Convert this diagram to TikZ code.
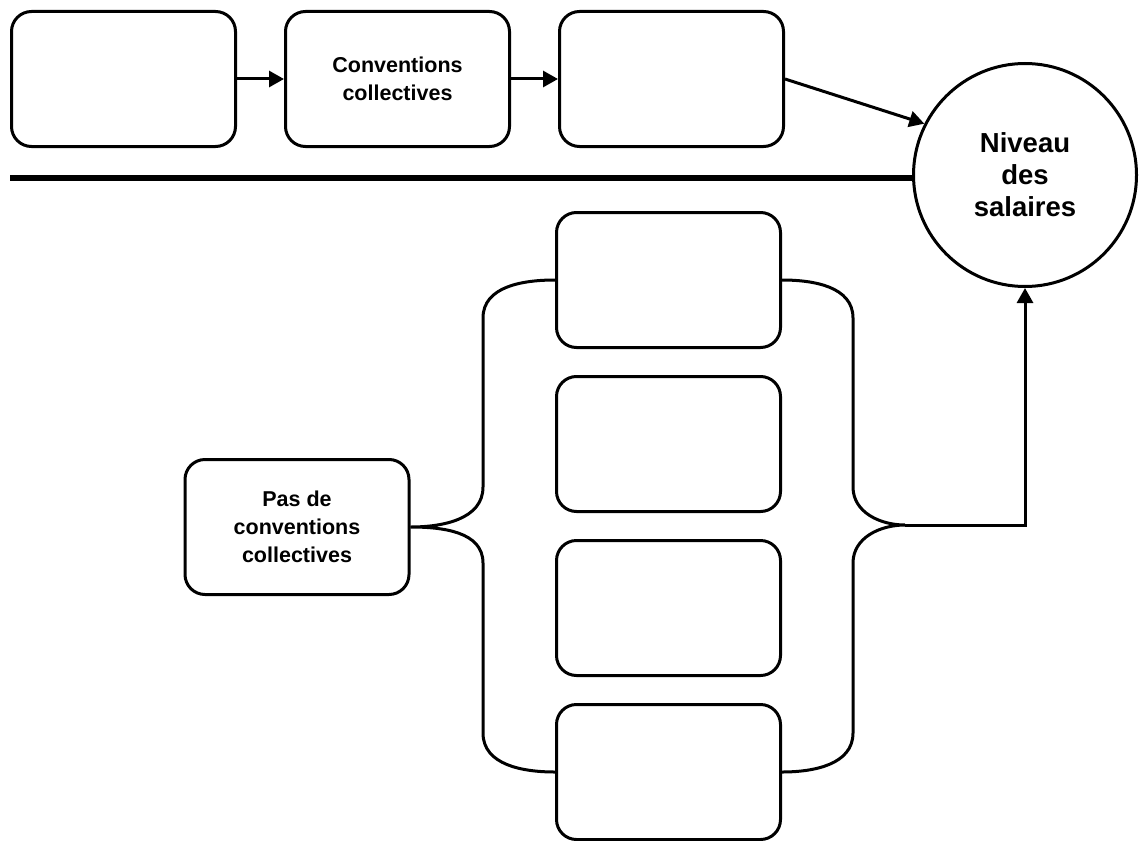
\documentclass[tikz,border=0pt]{standalone}
\usepackage{fontspec}
\setmainfont{Liberation Sans}
\usetikzlibrary{shapes.geometric, arrows.meta}
\tikzstyle{box} = [
    rectangle,
    rounded corners=20pt,
    minimum width=224pt,
    minimum height=135pt,
    draw=black,
    line width=3pt,
    align=center,
    font=\bfseries\fontsize{21.5}{28}\selectfont
]
\tikzstyle{target} = [
    circle,
    minimum size=223pt,
    draw=black,
    line width=3pt,
    align=center,
    font=\bfseries\fontsize{27.5}{32}\selectfont
]
\tikzstyle{arrow} = [line width=3pt,-{Triangle[length=15pt,width=16pt]}]
\tikzstyle{brace} = [line width=3pt]

\begin{document}
\begin{tikzpicture}[node distance=164pt]
\useasboundingbox (0,0) rectangle (1139pt,-840pt);

\node (c1) [box] at (123.5pt,-79pt) {};

\node (c2) [box, right of=c1, xshift=110pt]
{Conventions\\collectives};

\node (c3) [box, right of=c2, xshift=110pt] {};

\node (sal) [target] at (1025pt,-175pt)
{Niveau\\des\\salaires};

\coordinate (cut) at (10pt,-178pt);

\node (b1) [box] at (668.5pt,-280pt) {};
\node (b2) [box, below of=b1] {};
\node (b3) [box, below of=b2] {};
\node (b4) [box, below of=b3] {};

\node (pas) [box] at (297pt,-527pt)
{Pas de\\conventions\\collectives};

\coordinate (tip) at (905pt,-525pt);

\draw [arrow] (c1) -- (c2);
\draw [arrow] (c2) -- (c3);
\draw [arrow] (c3.east) -- (sal.153);

\draw [line width=5.5pt] (cut) -- (sal.west |- cut);

% left brace
\draw [brace] (b1.west) to[out=180,in=90] (483pt,-318pt)
    -- (483pt,-487pt) to[out=-90,in=0] (pas.east)
    to[out=0,in=90] (483pt,-563pt)
    -- (483pt,-733pt) to[out=-90,in=180] (b4.west);

% right brace
\draw [brace] (b1.east) to[out=0,in=90] (853pt,-318pt)
    -- (853pt,-487pt) to[out=-90,in=180] (tip)
    to[out=180,in=90] (853pt,-563pt)
    -- (853pt,-733pt) to[out=-90,in=0] (b4.east);

\draw [arrow] (tip) -| (sal.south);

\end{tikzpicture}
\end{document}
